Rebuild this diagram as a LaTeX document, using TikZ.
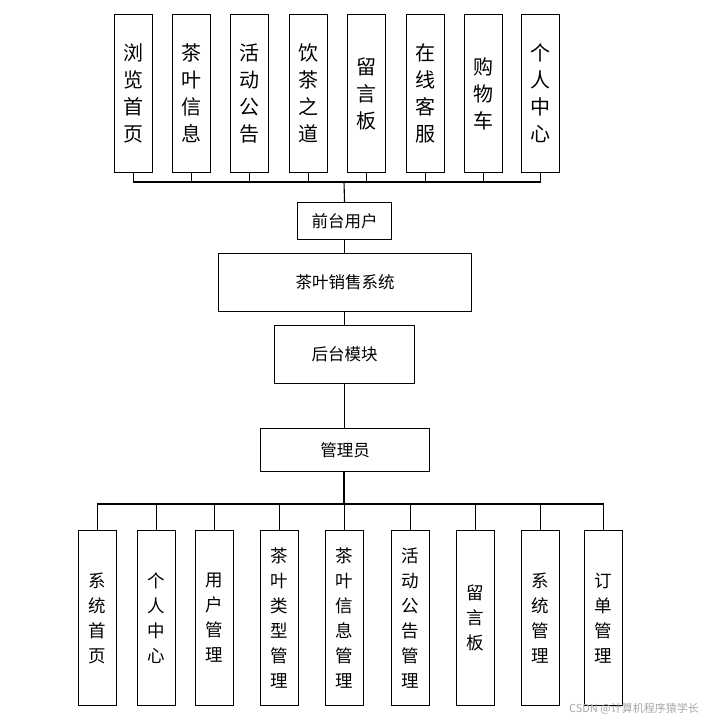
\documentclass[tikz,border=0pt]{standalone}
\usepackage{fontspec}
\setmainfont{Noto Sans CJK SC}
\begin{document}
\begin{tikzpicture}[x=1pt,y=-1pt,
  bx/.style={draw,line width=1.1pt,inner sep=0pt,anchor=north west},
  vt/.style={align=center,font=\fontsize{20}{27}\selectfont},
  vb/.style={align=center,font=\fontsize{17.5}{25}\selectfont},
  ln/.style={line width=1.1pt}]
\useasboundingbox (0,0) rectangle (707,721);
% top boxes
\foreach \n/\x/\t in {t1/114/浏\\览\\首\\页, t2/172/茶\\叶\\信\\息, t3/230/活\\动\\公\\告, t4/289/饮\\茶\\之\\道, t5/347/留\\言\\板, t6/406/在\\线\\客\\服, t7/464/购\\物\\车, t8/521/个\\人\\中\\心}{
  \node[bx,minimum width=38pt,minimum height=158pt] (\n) at (\x,14) {};
  \node[vt] at (\n.center) {\t};
}
\node[bx,minimum width=94pt,minimum height=37pt,font=\fontsize{16.5}{18}\selectfont] (qt) at (297,202) {前台用户};
\node[bx,minimum width=253pt,minimum height=58pt,font=\fontsize{16.5}{18}\selectfont] (sys) at (218,253) {茶叶销售系统};
\node[bx,minimum width=140pt,minimum height=58pt,font=\fontsize{16.5}{18}\selectfont] (ht) at (274,325) {后台模块};
\node[bx,minimum width=169pt,minimum height=43pt,font=\fontsize{16.5}{18}\selectfont] (gl) at (260,428) {管理员};
\foreach \n/\x/\t in {b1/78/系\\统\\首\\页, b2/137/个\\人\\中\\心, b3/195/用\\户\\管\\理, b4/260/茶\\叶\\类\\型\\管\\理, b5/325/茶\\叶\\信\\息\\管\\理, b6/391/活\\动\\公\\告\\管\\理, b7/456/留\\言\\板, b8/521/系\\统\\管\\理, b9/584/订\\单\\管\\理}{
  \node[bx,minimum width=38pt,minimum height=175pt] (\n) at (\x,530) {};
  \node[vb] at (\n.center) {\t};
}
% connectors
\coordinate (tbus) at (344,182);
\foreach \n in {t1,t2,t3,t4,t5,t6,t7,t8} \draw[ln] (\n.south) |- (tbus);
\draw[ln] (tbus) -- (qt.north);
\draw[ln] (qt.south) -- (sys.north -| qt.south);
\draw[ln] (sys.south -| ht.north) -- (ht.north);
\draw[ln] (ht.south) -- (gl.north -| ht.south);
\coordinate (bbus) at (344,504);
\draw[ln] (gl.south -| bbus) -- (bbus);
\foreach \n in {b1,b2,b3,b4,b5,b6,b7,b8,b9} \draw[ln] (\n.north) |- (bbus);
\node[anchor=south east,text=black!35,font=\fontsize{11}{12}\selectfont,inner sep=1pt] (wm) at (700,716) {CSDN @计算机程序猿学长};
\end{tikzpicture}
\end{document}
